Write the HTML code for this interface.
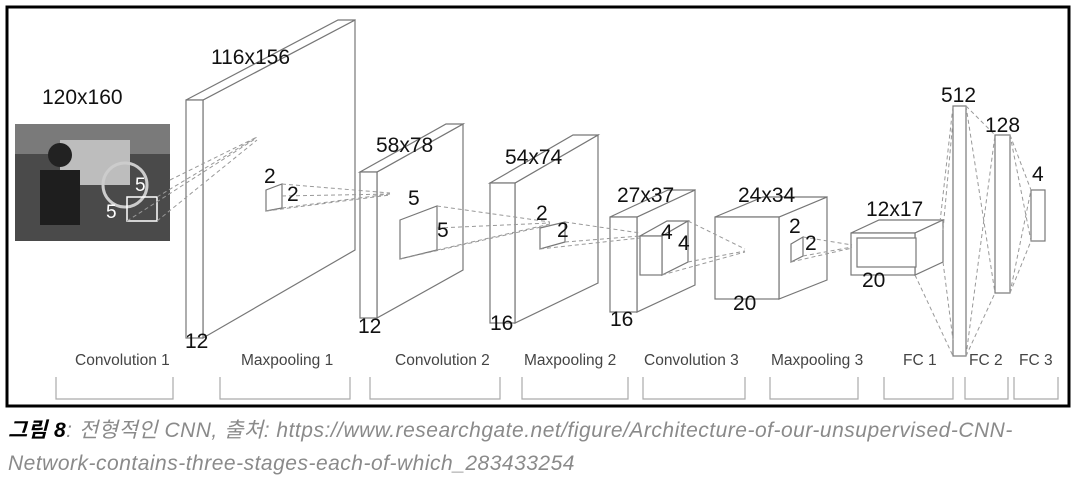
<!DOCTYPE html>
<html><head><meta charset="utf-8"><style>
body{margin:0;background:#fff;width:1078px;height:481px;overflow:hidden;position:relative;font-family:"Liberation Sans","Noto Sans CJK KR",sans-serif}
.cap{position:absolute;left:8px;font-style:italic;color:#8a8a8a;font-size:21px;letter-spacing:0.5px;white-space:nowrap}
</style></head><body>
<svg width="1078" height="481" style="position:absolute;left:0;top:0" font-family="Liberation Sans, sans-serif">
<rect x="7" y="7" width="1062" height="399" fill="#fff" stroke="#000" stroke-width="3"/>
<rect x="15" y="124" width="155" height="117" fill="#4a4a4a"/>
<rect x="15" y="124" width="155" height="30" fill="#7a7a7a"/>
<rect x="60" y="140" width="70" height="45" fill="#bdbdbd"/>
<circle cx="60" cy="155" r="12" fill="#222"/>
<rect x="40" y="170" width="40" height="55" fill="#1e1e1e"/>
<circle cx="125" cy="185" r="22" fill="none" stroke="#ccc" stroke-width="3"/>
<rect x="127" y="197" width="30" height="24" fill="none" stroke="#fff" stroke-width="1.5"/>
<text x="135" y="191" font-size="19" fill="#fff">5</text>
<text x="106" y="218" font-size="19" fill="#fff">5</text>
<g fill="#fff" stroke="#777" stroke-width="1.2">
<polygon points="203,100 355,20 355,250 203,338"/>
<polygon points="186,100 338,20 355,20 203,100"/>
<rect x="186" y="100" width="17" height="238"/>
<polygon points="266,190 282,184 282,208 266,211"/>
<polygon points="377,172 463,124 463,270 377,318"/>
<polygon points="360,172 446,124 463,124 377,172"/>
<rect x="360" y="172" width="17" height="146"/>
<polygon points="400,220 437,206 437,250 400,259"/>
<polygon points="515,183 598,135 598,283 515,323"/>
<polygon points="490,183 573,135 598,135 515,183"/>
<rect x="490" y="183" width="25" height="140"/>
<polygon points="540,228 565,222 565,242 540,249"/>
<polygon points="637,217 695,190 695,285 637,312"/>
<polygon points="610,217 668,190 695,190 637,217"/>
<rect x="610" y="217" width="27" height="95"/>
<polygon points="640,236 667,221 688,221 662,236"/>
<polygon points="662,236 688,221 688,262 662,275"/>
<rect x="640" y="236" width="22" height="39"/>
<polygon points="779,217 827,197 827,280 779,299"/>
<polygon points="715,217 763,197 827,197 779,217"/>
<rect x="715" y="217" width="64" height="82"/>
<polygon points="791,244 803,237 803,256 791,262"/>
<polygon points="851,233 879,220 943,220 915,233"/>
<polygon points="915,233 943,220 943,262 915,275"/>
<rect x="851" y="233" width="64" height="42"/>
<rect x="857" y="238" width="59" height="29"/>
<rect x="953" y="106" width="13" height="250"/>
<rect x="995" y="135" width="15" height="158"/>
<rect x="1031" y="190" width="14" height="51"/>
</g>
<g fill="none" stroke="#999" stroke-width="1" stroke-dasharray="4,3">
<line x1="157" y1="197" x2="257" y2="137"/><line x1="157" y1="221" x2="257" y2="140"/><line x1="127" y1="221" x2="255" y2="139"/><line x1="170" y1="180" x2="255" y2="138"/>
<line x1="282" y1="184" x2="390" y2="193"/><line x1="282" y1="208" x2="390" y2="194"/><line x1="266" y1="211" x2="390" y2="195"/><line x1="282" y1="196" x2="390" y2="194"/>
<line x1="437" y1="206" x2="550" y2="222"/><line x1="437" y1="250" x2="550" y2="224"/><line x1="400" y1="259" x2="550" y2="225"/><line x1="437" y1="228" x2="550" y2="223"/>
<line x1="565" y1="222" x2="640" y2="233"/><line x1="565" y1="242" x2="640" y2="236"/><line x1="540" y1="249" x2="640" y2="238"/>
<line x1="688" y1="221" x2="745" y2="249"/><line x1="688" y1="262" x2="745" y2="251"/><line x1="662" y1="275" x2="745" y2="252"/>
<line x1="803" y1="237" x2="852" y2="245"/><line x1="803" y1="256" x2="852" y2="247"/><line x1="791" y1="262" x2="852" y2="248"/>
<line x1="940" y1="222" x2="953" y2="106"/><line x1="943" y1="230" x2="953" y2="120"/><line x1="915" y1="275" x2="953" y2="356"/><line x1="943" y1="262" x2="953" y2="340"/>
<line x1="966" y1="106" x2="995" y2="135"/><line x1="966" y1="106" x2="995" y2="293"/><line x1="966" y1="356" x2="995" y2="135"/><line x1="966" y1="356" x2="995" y2="293"/>
<line x1="1010" y1="135" x2="1031" y2="190"/><line x1="1010" y1="135" x2="1031" y2="241"/><line x1="1010" y1="293" x2="1031" y2="190"/><line x1="1010" y1="293" x2="1031" y2="241"/>
</g>
<g font-size="21" fill="#111">
<text x="42" y="104">120x160</text>
<text x="211" y="64">116x156</text>
<text x="185" y="348">12</text>
<text x="264" y="183">2</text>
<text x="287" y="201">2</text>
<text x="376" y="152">58x78</text>
<text x="358" y="333">12</text>
<text x="408" y="205">5</text>
<text x="437" y="237">5</text>
<text x="505" y="164">54x74</text>
<text x="490" y="330">16</text>
<text x="536" y="220">2</text>
<text x="557" y="237">2</text>
<text x="617" y="202">27x37</text>
<text x="610" y="326">16</text>
<text x="661" y="239">4</text>
<text x="678" y="250">4</text>
<text x="738" y="202">24x34</text>
<text x="733" y="310">20</text>
<text x="789" y="233">2</text>
<text x="805" y="250">2</text>
<text x="866" y="216">12x17</text>
<text x="862" y="287">20</text>
<text x="941" y="102">512</text>
<text x="985" y="132">128</text>
<text x="1032" y="181">4</text>
</g>
<g font-size="15.5" fill="#444">
<text x="75" y="365">Convolution  1</text>
<text x="241" y="365">Maxpooling 1</text>
<text x="395" y="365">Convolution 2</text>
<text x="524" y="365">Maxpooling 2</text>
<text x="644" y="365">Convolution 3</text>
<text x="771" y="365">Maxpooling 3</text>
<text x="903" y="365">FC 1</text>
<text x="969" y="365">FC 2</text>
<text x="1019" y="365">FC 3</text>
</g>
<g fill="none" stroke="#aaa" stroke-width="1.2">
<path d="M56,377V399H173V377"/><path d="M220,377V399H350V377"/><path d="M370,377V399H500V377"/><path d="M522,377V399H628V377"/><path d="M643,377V399H745V377"/><path d="M770,377V399H858V377"/><path d="M884,377V399H953V377"/><path d="M965,377V399H1008V377"/><path d="M1014,377V399H1058V377"/>
</g>
</svg>
<div class="cap" style="top:414px"><b style="color:#000">그림 8</b>: 전형적인 CNN, 출처: https://www.researchgate.net/figure/Architecture-of-our-unsupervised-CNN-</div>
<div class="cap" style="top:452px">Network-contains-three-stages-each-of-which_283433254</div>
</body></html>
